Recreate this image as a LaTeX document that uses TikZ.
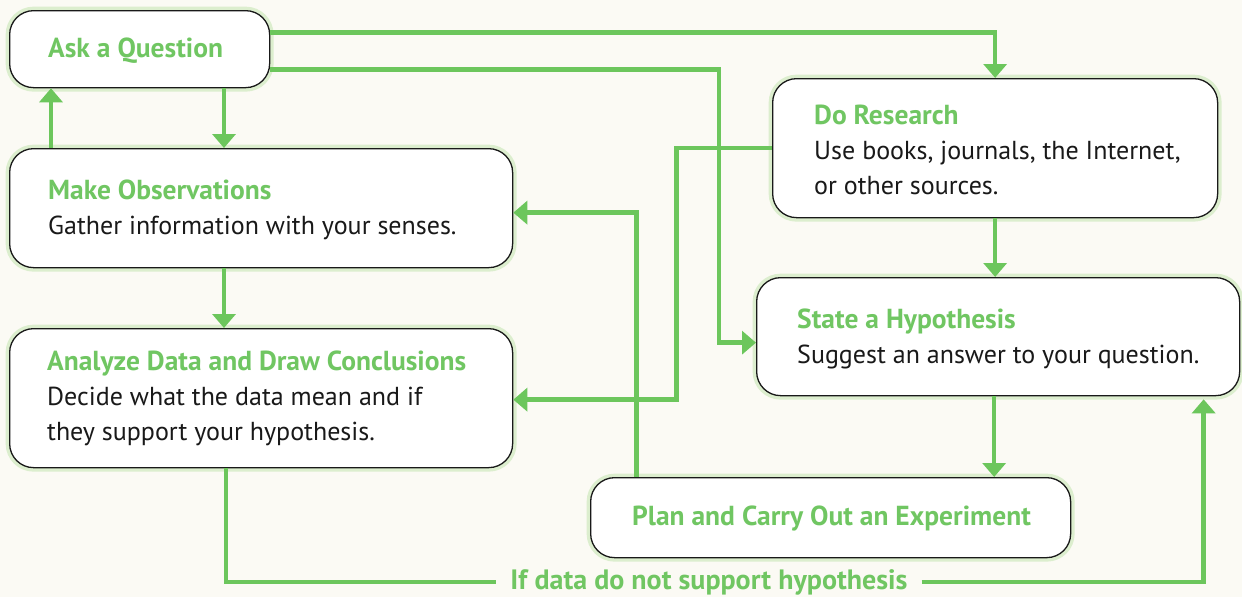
\documentclass[tikz,border=0pt]{standalone}
\usepackage{fontspec}
\setmainfont{PT Sans}
\usetikzlibrary{arrows.meta,calc}
\definecolor{flowgreen}{RGB}{108,198,92}
\definecolor{titlegreen}{RGB}{112,198,98}
\definecolor{glowgreen}{RGB}{220,238,206}
\definecolor{paper}{RGB}{251,250,244}
\definecolor{inkblack}{RGB}{25,25,25}
\tikzset{
  stepbox/.style={draw=inkblack, line width=1.3pt, rounded corners=24pt, fill=white,
    anchor=north west, inner sep=0pt,
    preaction={draw=glowgreen, line width=8pt}},
  steptext/.style={anchor=west, align=left, inner sep=0pt,
    font=\fontsize{26}{35}\selectfont, text=inkblack},
  flow/.style={draw=flowgreen, line width=4.5pt, -{Triangle[width=23pt,length=14pt]}},
  plainflow/.style={draw=flowgreen, line width=4.5pt}
}
\newcommand{\ttlgreen}[1]{{\color{titlegreen}\fontsize{27.5}{35}\selectfont\bfseries #1}}
\begin{document}
\begin{tikzpicture}[x=1pt,y=-1pt]
\useasboundingbox (0,0) rectangle (1242,597);
\fill[paper] (0,0) rectangle (1242,597);

\node[stepbox, minimum width=260pt, minimum height=77pt] (ask) at (9,10) {};
\node[stepbox, minimum width=503pt, minimum height=119pt] (obs) at (9,148) {};
\node[stepbox, minimum width=503pt, minimum height=139pt] (ana) at (9,328) {};
\node[stepbox, minimum width=445pt, minimum height=139pt] (res) at (772,78) {};
\node[stepbox, minimum width=483pt, minimum height=118pt] (hyp) at (756,277) {};
\node[stepbox, minimum width=480pt, minimum height=80pt] (plan) at (590,477) {};

\node[steptext] (askt) at ([xshift=39pt,yshift=-1pt]ask.west) {\ttlgreen{Ask a Question}};
\node[steptext] (obst) at ([xshift=39pt,yshift=-2pt]obs.west) {\ttlgreen{Make Observations}\\Gather information with your senses.};
\node[steptext] (anat) at ([xshift=38pt]ana.west) {\ttlgreen{Analyze Data and Draw Conclusions}\\Decide what the data mean and if\\they support your hypothesis.};
\node[steptext] (rest) at ([xshift=42pt,yshift=-2pt]res.west) {\ttlgreen{Do Research}\\Use books, journals, the Internet,\\or other sources.};
\node[steptext] (hypt) at ([xshift=41pt,yshift=-2pt]hyp.west) {\ttlgreen{State a Hypothesis}\\Suggest an answer to your question.};
\node[steptext] (plant) at ([xshift=42pt,yshift=-1pt]plan.west) {\ttlgreen{Plan and Carry Out an Experiment}};

\node[font=\fontsize{28}{30}\selectfont\bfseries, text=titlegreen, inner xsep=14pt, inner ysep=0pt] (lbl) at (709,582) {If data do not support hypothesis};

% Ask -> Do Research
\draw[flow] ([yshift=16.5pt]ask.east) -| (res.north);
% Ask -> State a Hypothesis
\draw[flow] ([yshift=-20.5pt]ask.east) -| ([xshift=-37pt,yshift=-6pt]hyp.west) -- ([yshift=-6pt]hyp.west);
% Do Research -> Analyze
\draw[flow] (res.west) -| ([xshift=163pt,yshift=-1.5pt]ana.east) -- ([yshift=-1.5pt]ana.east);
% Plan -> Make Observations
\draw[flow] ([xshift=-194pt]plan.north) |- ([yshift=-4.5pt]obs.east);
% Ask -> Make Observations
\draw[flow] ($(ask.south west)+(215,0)$) -- ($(obs.north west)+(215,0)$);
% Make Observations -> Ask
\draw[flow] ($(obs.north west)+(42,0)$) -- ($(ask.south west)+(42,0)$);
% Make Observations -> Analyze
\draw[flow] ($(obs.south west)+(215,0)$) -- ($(ana.north west)+(215,0)$);
% Do Research -> State a Hypothesis
\draw[flow] (res.south) -- (res.south |- hyp.north);
% State a Hypothesis -> Plan
\draw[flow] ([xshift=-4pt]hyp.south) -- ([xshift=-4pt]hyp.south |- plan.north);
% Feedback loop
\draw[plainflow] ($(ana.south west)+(217,0)$) |- (lbl.west);
\draw[flow] (lbl.east) -| ([xshift=205.5pt,yshift=-3pt]hyp.south);
\end{tikzpicture}
\end{document}
